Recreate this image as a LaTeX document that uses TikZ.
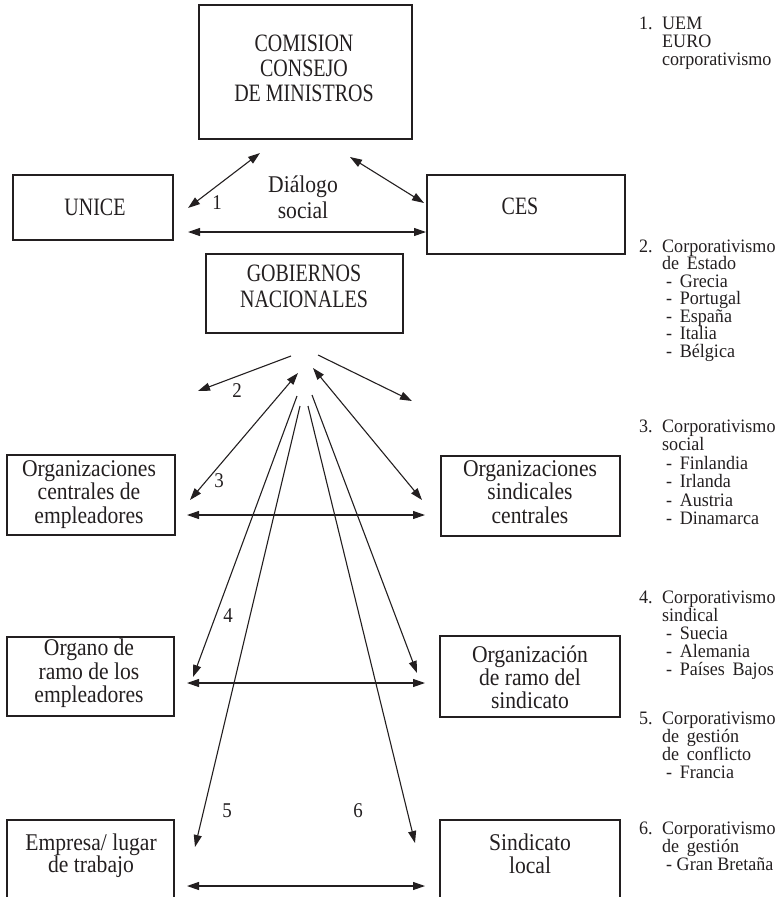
\documentclass[tikz,border=0pt]{standalone}
\usepackage{fontspec}
\setmainfont{Liberation Serif}
\newfontfamily\bxfont[FakeStretch=0.9]{Liberation Serif}
\newfontfamily\capfont[FakeStretch=0.8]{Liberation Serif}
\newfontfamily\rfont[FakeStretch=0.95]{Liberation Serif}
\usetikzlibrary{arrows.meta}
\definecolor{ink}{RGB}{35,31,32}
\begin{document}
\begin{tikzpicture}[x=1pt,y=-1pt,
  boxn/.style={draw=ink, line width=1.1pt, rectangle, inner sep=0pt, outer sep=0pt},
  openbox/.style={rectangle, inner sep=0pt, outer sep=0pt},
  boxline/.style={draw=ink, line width=1.1pt},
  bt/.style={text=ink, inner sep=0pt, anchor=base, font=\bxfont\fontsize{24}{24}\selectfont},
  ct/.style={text=ink, inner sep=0pt, anchor=base, font=\capfont\fontsize{25}{25}\selectfont},
  nl/.style={text=ink, inner sep=0pt, anchor=base, font=\bxfont\fontsize{21}{21}\selectfont},
  rt/.style={text=ink, inner sep=0pt, anchor=base west, font=\rfont\fontsize{19}{19}\selectfont},
  conn/.style={draw=ink, line width=1.1pt},
  arrone/.style={conn, -{Triangle[length=12pt,width=8pt]}},
  arrtwo/.style={conn, {Triangle[length=12pt,width=8pt]}-{Triangle[length=12pt,width=8pt]}},
]
\useasboundingbox (0,0) rectangle (778,897);

% ---------- boxes ----------
\node[boxn, minimum width=213pt, minimum height=134pt] (comBox) at (305.5,72) {};
\node[boxn, minimum width=160pt, minimum height=65pt] (uniceBox) at (93,207.5) {};
\node[boxn, minimum width=198pt, minimum height=79pt] (cesBox) at (526,214.5) {};
\node[boxn, minimum width=197pt, minimum height=79pt] (gobBox) at (304.5,293.5) {};
\node[boxn, minimum width=168pt, minimum height=80pt] (ocBox) at (91,495) {};
\node[boxn, minimum width=179pt, minimum height=80pt] (osBox) at (530.5,496) {};
\node[boxn, minimum width=167pt, minimum height=79pt] (orBox) at (90.5,676.5) {};
\node[boxn, minimum width=180pt, minimum height=81pt] (rsBox) at (530,676.5) {};
\node[openbox, minimum width=167pt, minimum height=85pt] (empBox) at (90.5,862.5) {};
\node[openbox, minimum width=180pt, minimum height=85pt] (sinBox) at (530,862.5) {};
\draw[boxline] (empBox.south west) -- (empBox.north west) -- (empBox.north east) -- (empBox.south east);
\draw[boxline] (sinBox.south west) -- (sinBox.north west) -- (sinBox.north east) -- (sinBox.south east);

% ---------- box texts ----------
\node[ct] (com1) at (304,51) {COMISION};
\node[ct] (com2) at (304,76) {CONSEJO};
\node[ct] (com3) at (304,101) {DE MINISTROS};
\node[ct] (unice) at (95,215) {UNICE};
\node[ct] (ces) at (520,214) {CES};
\node[ct] (gob1) at (304,281) {GOBIERNOS};
\node[ct] (gob2) at (304,307) {NACIONALES};
\node[bt] (oc1) at (89,476) {Organizaciones};
\node[bt] (oc2) at (89,499.5) {centrales de};
\node[bt] (oc3) at (89,523) {empleadores};
\node[bt] (os1) at (530,476) {Organizaciones};
\node[bt] (os2) at (530,499.5) {sindicales};
\node[bt] (os3) at (530,523) {centrales};
\node[bt] (or1) at (89,655) {Organo de};
\node[bt] (or2) at (89,679) {ramo de los};
\node[bt] (or3) at (89,702) {empleadores};
\node[bt] (rs1) at (530,662) {Organización};
\node[bt] (rs2) at (530,685) {de ramo del};
\node[bt] (rs3) at (530,708) {sindicato};
\node[bt] (emp1) at (91,850) {Empresa/ lugar};
\node[bt] (emp2) at (91,872) {de trabajo};
\node[bt] (sin1) at (530,850) {Sindicato};
\node[bt] (sin2) at (530,873) {local};

% ---------- arrow end points ----------
\coordinate (p1a) at (260,153);  \coordinate (p1b) at (188,208);
\coordinate (p1c) at (350,157);  \coordinate (p1d) at (424,203);
\coordinate (h1a) at (188,232);  \coordinate (h1b) at (426,232);
\coordinate (p2a) at (291,356);  \coordinate (p2b) at (198,391);
\coordinate (p2c) at (318,355);  \coordinate (p2d) at (412,401);
\coordinate (p3a) at (298,373);  \coordinate (p3b) at (190,500);
\coordinate (p3c) at (313,368);  \coordinate (p3d) at (422,500);
\coordinate (h3a) at (187,515);  \coordinate (h3b) at (425,515);
\coordinate (p4a) at (297,396);  \coordinate (p4b) at (193,677);
\coordinate (p4c) at (312,395);  \coordinate (p4d) at (417,673);
\coordinate (h4a) at (187,683);  \coordinate (h4b) at (425,683);
\coordinate (p5a) at (300,406);  \coordinate (p5b) at (195,847);
\coordinate (p6a) at (308,406);  \coordinate (p6b) at (415,843);
\coordinate (h5a) at (187,886);  \coordinate (h5b) at (425,886);

% ---------- arrows ----------
\draw[arrtwo] (p1a) -- (p1b);
\draw[arrtwo] (p1c) -- (p1d);
\draw[arrtwo] (h1a) -- (h1b);
\draw[arrone] (p2a) -- (p2b);
\draw[arrone] (p2c) -- (p2d);
\draw[arrtwo] (p3a) -- (p3b);
\draw[arrtwo] (p3c) -- (p3d);
\draw[arrtwo] (h3a) -- (h3b);
\draw[arrone] (p4a) -- (p4b);
\draw[arrone] (p4c) -- (p4d);
\draw[arrtwo] (h4a) -- (h4b);
\draw[arrone] (p5a) -- (p5b);
\draw[arrone] (p6a) -- (p6b);
\draw[arrtwo] (h5a) -- (h5b);

% ---------- labels ----------
\node[bt] (dlg1) at (303,192) {Diálogo};
\node[bt] (dlg2) at (303,218) {social};
\node[nl] (l1) at (217,209) {1};
\node[nl] (l2) at (237,397) {2};
\node[nl] (l3) at (219,487) {3};
\node[nl] (l4) at (228,622) {4};
\node[nl] (l5) at (227,817) {5};
\node[nl] (l6) at (358,817) {6};

% ---------- right column ----------
\node[rt] (n1) at (639,29) {1.};
\node[rt] (r1a) at (662,29) {UEM};
\node[rt] (r1b) at (662,47) {EURO};
\node[rt] (r1c) at (662,65) {corporativismo};

\node[rt] (n2) at (639,252) {2.};
\node[rt] (r2a) at (662,252) {Corporativismo};
\node[rt] (r2b) at (662,269.5) {de\, Estado};
\node[rt] (r2c) at (666,287) {-\, Grecia};
\node[rt] (r2d) at (666,304.5) {-\, Portugal};
\node[rt] (r2e) at (666,322) {-\, España};
\node[rt] (r2f) at (666,339.5) {-\, Italia};
\node[rt] (r2g) at (666,357) {-\, Bélgica};

\node[rt] (n3) at (639,432) {3.};
\node[rt] (r3a) at (662,432) {Corporativismo};
\node[rt] (r3b) at (662,450.5) {social};
\node[rt] (r3c) at (666,469) {-\, Finlandia};
\node[rt] (r3d) at (666,487.5) {-\, Irlanda};
\node[rt] (r3e) at (666,506) {-\, Austria};
\node[rt] (r3f) at (666,524.5) {-\, Dinamarca};

\node[rt] (n4) at (639,603) {4.};
\node[rt] (r4a) at (662,603) {Corporativismo};
\node[rt] (r4b) at (662,621) {sindical};
\node[rt] (r4c) at (666,639) {-\, Suecia};
\node[rt] (r4d) at (666,657) {-\, Alemania};
\node[rt] (r4e) at (666,675) {-\, Países\, Bajos};

\node[rt] (n5) at (639,724) {5.};
\node[rt] (r5a) at (662,724) {Corporativismo};
\node[rt] (r5b) at (662,742) {de\, gestión};
\node[rt] (r5c) at (662,760) {de\, conflicto};
\node[rt] (r5d) at (666,778) {-\, Francia};

\node[rt] (n6) at (639,834) {6.};
\node[rt] (r6a) at (662,834) {Corporativismo};
\node[rt] (r6b) at (662,852) {de\, gestión};
\node[rt] (r6c) at (666,870) {- Gran Bretaña};
\end{tikzpicture}
\end{document}
